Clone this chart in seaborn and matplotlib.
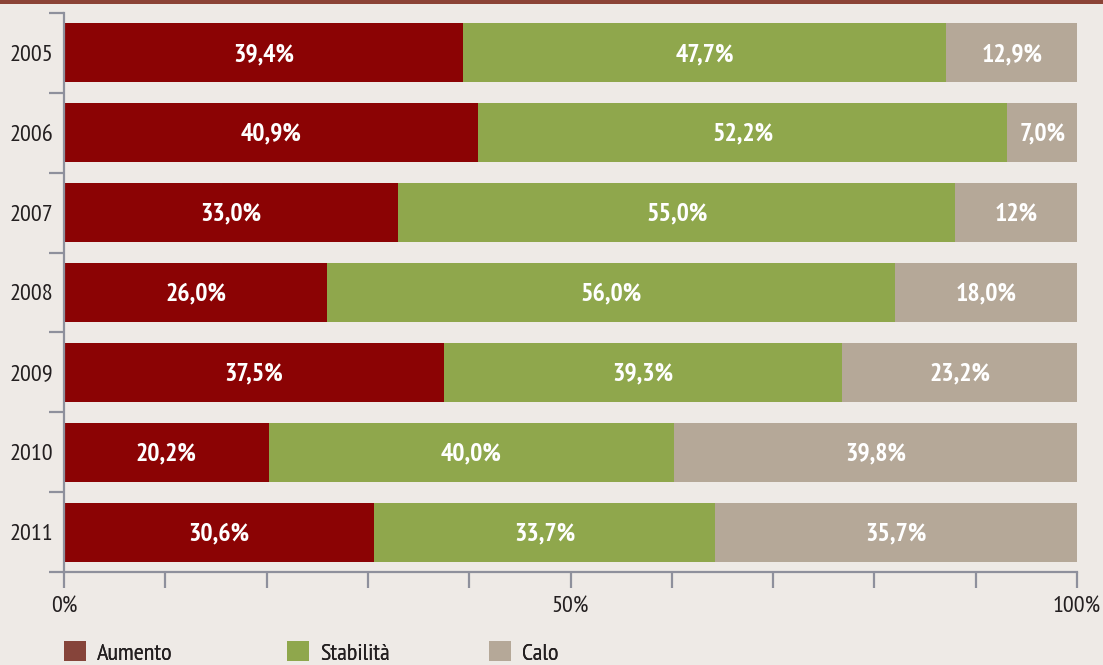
import matplotlib
matplotlib.use("Agg")
import matplotlib.pyplot as plt
from matplotlib import font_manager as fm
from matplotlib.patches import Rectangle, Patch
from matplotlib.ticker import FixedLocator, FuncFormatter
import numpy as np
import pandas as pd
import seaborn as sns

# --- data -------------------------------------------------------------------
years = ["2005", "2006", "2007", "2008", "2009", "2010", "2011"]
aumento = [39.4, 40.9, 33.0, 26.0, 37.5, 20.2, 30.6]
stabilita = [47.7, 52.2, 55.0, 56.0, 39.3, 40.0, 33.7]
calo = [12.9, 7.0, 12.0, 18.0, 23.2, 39.8, 35.7]
series_names = ["Aumento", "Stabilità", "Calo"]
x_tick_labels = {0: "0%", 50: "50%", 100: "100%"}

# --- style ------------------------------------------------------------------
BG = "#EEEAE6"
BAR_COLORS = ["#8B0304", "#8FA74C", "#B5A898"]
LEGEND_COLORS = ["#86443A", "#8FA74C", "#B5A898"]
AXIS_COLOR = "#8E909C"
TEXT_COLOR = "#231F20"

sns.set_theme(style="white")
available = {f.name for f in fm.fontManager.ttflist}
narrow = [f for f in ["PT Sans Narrow", "Fira Sans Condensed", "Roboto Condensed",
                      "Asap Condensed", "Liberation Sans Narrow"] if f in available]
plt.rcParams["font.family"] = narrow[:1] + ["DejaVu Sans"]

W, H = 1103, 665
fig = plt.figure(figsize=(W / 100, H / 100), dpi=100, facecolor=BG)
ax = fig.add_axes([64 / W, (H - 572) / H, (1077 - 64) / W, (572 - 13) / H])
ax.set_facecolor(BG)

df = pd.DataFrame({"year": years, "Aumento": aumento,
                   "Stabilità": stabilita, "Calo": calo})
cum = df[series_names].cumsum(axis=1)
starts = cum - df[series_names]

# stacked bars: draw cumulative layers from the outermost inwards
bar_h = 0.74
for name, color in reversed(list(zip(series_names, BAR_COLORS))):
    sns.barplot(data=cum.assign(year=years), x=name, y="year", order=years,
                orient="h", color=color, width=bar_h, saturation=1,
                linewidth=0, ax=ax)

# value labels centred in each segment
for i, yr in enumerate(years):
    for name in series_names:
        v = df.loc[i, name]
        txt = ("%d%%" % v) if (name == "Calo" and yr == "2007") else \
            ("%.1f%%" % v).replace(".", ",")
        xc = starts.loc[i, name] + v / 2
        ax.text(xc, i + 0.02, txt, ha="center", va="center", color="white",
                fontsize=18.5, fontweight="bold")

# axes limits
ax.set_xlim(0, 100)
ax.set_ylim(len(years) - 0.5, -0.5)
ax.set_xlabel("")
ax.set_ylabel("")

# spines
for s in ["top", "right"]:
    ax.spines[s].set_visible(False)
for s in ["left", "bottom"]:
    ax.spines[s].set_color(AXIS_COLOR)
    ax.spines[s].set_linewidth(1.6)

# x ticks: every 10%, labels at 0/50/100
ax.xaxis.set_major_locator(FixedLocator(np.arange(0, 101, 10)))
ax.xaxis.set_major_formatter(FuncFormatter(lambda v, p: x_tick_labels.get(int(round(v)), "")))
ax.tick_params(axis="x", which="major", direction="out", length=11.5,
               width=1.6, color=AXIS_COLOR, pad=6, labelsize=17.5,
               labelcolor=TEXT_COLOR, bottom=True)

# y ticks: labels at category centres, tick marks at boundaries
ax.tick_params(axis="y", which="major", length=0, pad=8, labelsize=17.5,
               labelcolor=TEXT_COLOR, left=False)
ax.yaxis.set_minor_locator(FixedLocator(np.arange(-0.5, len(years), 1.0)))
ax.tick_params(axis="y", which="minor", direction="out", length=11,
               width=1.6, color=AXIS_COLOR, left=True)
for t in ax.xaxis.get_major_ticks() + ax.yaxis.get_minor_ticks():
    t.tick1line.set_clip_on(False)

# legend: one entry per column, each anchored at its own x position
legend_x = [64, 287, 489]
for name, color, lx in zip(series_names, LEGEND_COLORS, legend_x):
    leg = fig.legend(handles=[Patch(facecolor=color, edgecolor="none", label=name)],
                     loc="center left", frameon=False,
                     bbox_to_anchor=(lx / W, (H - 653) / H),
                     bbox_transform=fig.transFigure, borderpad=0,
                     borderaxespad=0, handlelength=0.9, handleheight=0.9,
                     handletextpad=0.45, fontsize=17.5, labelcolor=TEXT_COLOR)
    fig.add_artist(leg)

# top rule
fig.add_artist(Rectangle((0, 1 - 4 / H), 1, 4 / H, transform=fig.transFigure,
                         facecolor="#8B4336", edgecolor="none"))

fig.savefig("out.png", dpi=100, facecolor=BG)
